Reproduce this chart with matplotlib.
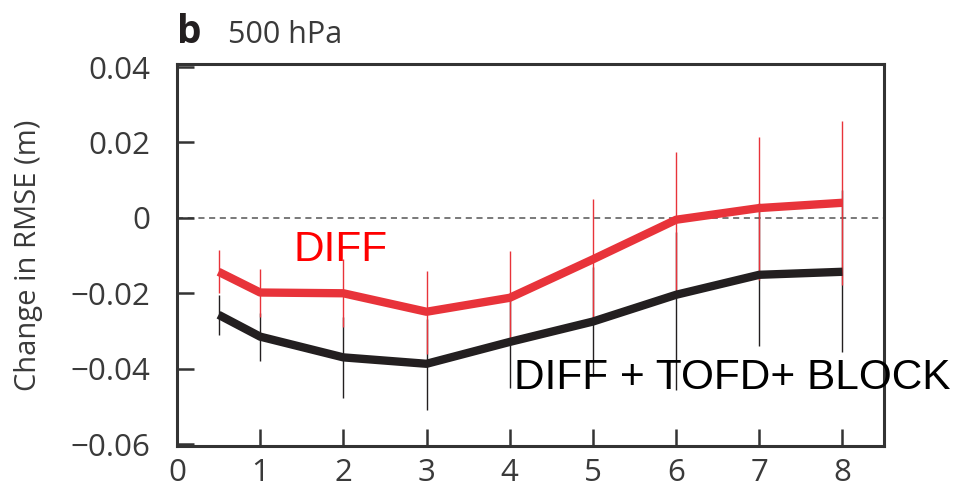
import numpy as np
import matplotlib.pyplot as plt

# forecast day
days = [0.5, 1, 2, 3, 4, 5, 6, 7, 8]

# DIFF (red)
diff_mean = [-0.0143, -0.0198, -0.0200, -0.0249, -0.0212, -0.0110, -0.0005, 0.0026, 0.0040]
diff_lo = [-0.0200, -0.0262, -0.0290, -0.0360, -0.0337, -0.0280, -0.0190, -0.0165, -0.0178]
diff_hi = [-0.0085, -0.0135, -0.0110, -0.0140, -0.0088, 0.0050, 0.0175, 0.0215, 0.0257]

# DIFF + TOFD + BLOCK (black)
all_mean = [-0.0257, -0.0315, -0.0370, -0.0387, -0.0329, -0.0275, -0.0204, -0.0151, -0.0143]
all_lo = [-0.0310, -0.0380, -0.0477, -0.0510, -0.0450, -0.0420, -0.0456, -0.0340, -0.0357]
all_hi = [-0.0204, -0.0252, -0.0262, -0.0268, -0.0204, -0.0130, -0.0037, 0.0040, 0.0074]

red = '#e8333a'
black = '#231f20'
gray = '#3a3a3a'

fig = plt.figure(figsize=(9.55, 4.95), dpi=100)
ax = fig.add_axes([0.1853, 0.099, 0.7404, 0.7717])

# zero line
ax.axhline(0, color='#555555', linestyle=(0, (4, 3)), linewidth=1.1, zorder=1)

# error bars
ax.vlines(days, all_lo, all_hi, color=black, linewidth=1.0, zorder=2)
ax.vlines(days, diff_lo, diff_hi, color=red, linewidth=1.0, zorder=2)

# mean lines
ax.plot(days, all_mean, color=black, linewidth=6, solid_capstyle='butt', zorder=3)
ax.plot(days, diff_mean, color=red, linewidth=6, solid_capstyle='butt', zorder=4)

ax.set_xlim(0, 8.5)
ax.set_ylim(-0.0605, 0.0408)
ax.set_xticks(range(0, 9))
ax.set_yticks([-0.06, -0.04, -0.02, 0, 0.02, 0.04])
ax.set_yticklabels(['\u22120.06', '\u22120.04', '\u22120.02', '0', '0.02', '0.04'])

ax.tick_params(direction='in', length=12, width=1.8, color='#333333',
               labelsize=22.5, labelcolor=gray)
ax.tick_params(axis='y', pad=19)
ax.tick_params(axis='x', pad=9)
for s in ax.spines.values():
    s.set_linewidth(2.2)
    s.set_color('#333333')
for lab in ax.get_xticklabels() + ax.get_yticklabels():
    lab.set_family('Open Sans')

ax.set_ylabel('Change in RMSE (m)', fontsize=21, color=gray, family='Open Sans')
ax.yaxis.set_label_coords(-0.19, 0.5)

# panel title
fig.text(0.185, 0.913, 'b', fontsize=28, fontweight='bold', color='#231f20', family='Open Sans')
fig.text(0.239, 0.913, '500 hPa', fontsize=22, color=gray, family='Open Sans')

# series labels
ax.text(1.4, -0.0085, 'DIFF', color='#ff0000', fontsize=30.5, family='Liberation Sans', va='center')
ax.text(4.05, -0.0425, 'DIFF + TOFD+ BLOCK', color='black', fontsize=30.5,
        family='Liberation Sans', va='center', clip_on=False)

fig.savefig('out.png', dpi=100)
